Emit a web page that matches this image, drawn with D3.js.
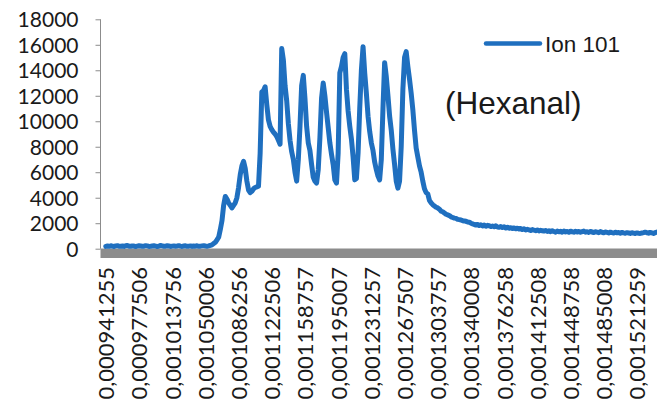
<!DOCTYPE html>
<html>
<head>
<meta charset="utf-8">
<script src="https://cdn.jsdelivr.net/npm/d3@7"></script>
<style>
  html, body { margin: 0; padding: 0; background: #ffffff; }
  svg { display: block; }
</style>
</head>
<body>
<svg id="chart" width="657" height="412"></svg>
<script>
// ---- data ----
const seriesName = "Ion 101";
const annotation = "(Hexanal)";
const tickLabels = [
  "0,000941255", "0,000977506", "0,001013756", "0,001050006", "0,001086256",
  "0,001122506", "0,001158757", "0,001195007", "0,001231257", "0,001267507",
  "0,001303757", "0,001340008", "0,001376258", "0,001412508", "0,001448758",
  "0,001485008", "0,001521259"
];
const pointsPerLabel = 20;
const yTicks = [0, 2000, 4000, 6000, 8000, 10000, 12000, 14000, 16000, 18000];
const values = [
  180,210,190,230,200,170,220,240,190,200,
  210,180,230,250,200,190,220,210,170,200,
  230,210,190,200,240,220,180,190,210,230,
  200,170,210,250,220,190,200,230,210,180,
  200,220,190,210,240,200,180,210,230,190,
  200,220,180,210,200,230,190,200,220,240,
  210,190,220,260,300,400,
  500,700,900,1500,2200,3400,4100,3900,3600,3400,
  3200,3400,3600,4000,4800,5800,6500,6850,6300,5300,
  4600,4400,4500,4700,4800,4850,4900,7500,12300,12400,
  12700,11300,10100,9600,9350,9150,9000,8800,8500,8200,
  15700,14800,12800,11600,9800,8500,7600,7000,6000,5300,
  7000,9600,12800,13600,11800,9600,8300,7700,6600,5600,
  5300,5150,6200,8700,11800,13000,12000,10700,9500,8300,
  7400,6600,5400,5150,7500,13800,14300,15000,15300,12500,
  10800,9600,8600,7200,5400,5500,7500,11000,14000,15850,
  13800,12200,10400,9200,8300,7700,6800,6200,5700,5400,
  7000,11000,14600,13500,12000,10400,9300,7800,6600,5300,
  4750,5300,8000,12500,15000,15460,14300,13300,12200,10900,
  9300,7900,7200,6500,6000,5300,4700,4400,4300,3800,
  3600,3450,3350,3250,3200,3100,2950,2900,2800,2700,
  2650,2600,2500,2450,2400,2380,2300,2280,2250,2200,
  2180,2150,2100,2080,2000,1950,1900,1860,
  1900,1820,1870,1790,1850,1760,1830,1800,1740,1780,
  1730,1790,1700,1680,1740,1660,1720,1620,1690,1600,
  1650,1580,1630,1560,1610,1540,1590,1500,1560,1470,
  1520,1480,1430,1500,1450,1410,1470,1390,1440,1410,
  1380,1430,1360,1400,1340,1410,1350,1300,1380,1330,
  1360,1300,1380,1320,1350,1290,1370,1330,1300,1360,
  1310,1350,1290,1340,1380,1300,1330,1280,1350,1310,
  1270,1330,1300,1260,1340,1290,1250,1310,1280,1240,
  1300,1260,1230,1290,1250,1270,1220,1280,1240,1210,
  1260,1230,1200,1250,1220,1190,1240,1210,1200,1230,
  1260,1300,1250,1220,1280,1240,1200,1260,1300
];

// ---- layout ----
const blue = "#1f6fbf";
const axisFont = "Lato, 'Noto Sans', sans-serif";
const svg = d3.select("#chart");
const x = d3.scaleLinear()
  .domain([0, (tickLabels.length - 1) * pointsPerLabel])
  .range([105.8, 636.9]);
const y = d3.scaleLinear().domain([0, 18000]).range([248.7, 19.3]);

// gray floor band
svg.append("rect")
  .attr("x", 100.5).attr("y", 248.5)
  .attr("width", 657 - 100.5).attr("height", 9.5)
  .attr("fill", "#8c8c8c");

// y axis
const yAxis = d3.axisLeft(y).tickValues(yTicks).tickSize(5).tickPadding(17).tickFormat(d3.format("d"));
const gy = svg.append("g").attr("transform", "translate(100.5,0)").call(yAxis);
gy.select(".domain").attr("stroke", "#8c8c8c").attr("d", `M0,${y(18000)}V${y(0)}`);
gy.selectAll(".tick line").attr("stroke", "#8c8c8c");
gy.selectAll(".tick text")
  .attr("font-family", axisFont)
  .attr("font-size", 21)
  .attr("fill", "#1a1a1a")
  .attr("dy", "0.36em");

// x labels (every pointsPerLabel points)
const xTickIdx = tickLabels.map((_, i) => i * pointsPerLabel);
const xAxis = d3.axisBottom(x).tickValues(xTickIdx).tickSize(0)
  .tickFormat((d, i) => tickLabels[i]);
const gx = svg.append("g").attr("transform", "translate(0,258)").call(xAxis);
gx.select(".domain").remove();
gx.selectAll(".tick text")
  .attr("font-family", axisFont)
  .attr("font-size", 22)
  .attr("fill", "#1a1a1a")
  .attr("text-anchor", "end")
  .attr("transform", "translate(0,9) rotate(-90)")
  .attr("x", 0).attr("y", 0)
  .attr("dy", "0.36em");

// series line
const line = d3.line().x((d, i) => x(i)).y(d => y(d));
svg.append("path")
  .datum(values)
  .attr("d", line)
  .attr("fill", "none")
  .attr("stroke", blue)
  .attr("stroke-width", 5)
  .attr("stroke-linejoin", "round")
  .attr("stroke-linecap", "round");

// legend
const lg = svg.append("g");
lg.append("line")
  .attr("x1", 486).attr("x2", 540).attr("y1", 43.5).attr("y2", 43.5)
  .attr("stroke", blue).attr("stroke-width", 4.5).attr("stroke-linecap", "round");
lg.append("text")
  .attr("x", 545).attr("y", 51.7)
  .attr("font-family", "'Liberation Sans', Arial, sans-serif")
  .attr("font-size", 22.5)
  .attr("fill", "#1a1a1a")
  .text(seriesName);

// annotation
svg.append("text")
  .attr("x", 445).attr("y", 114.3)
  .attr("font-family", "'Liberation Sans', Arial, sans-serif")
  .attr("font-size", 31.5)
  .attr("fill", "#1a1a1a")
  .text(annotation);
</script>
</body>
</html>
